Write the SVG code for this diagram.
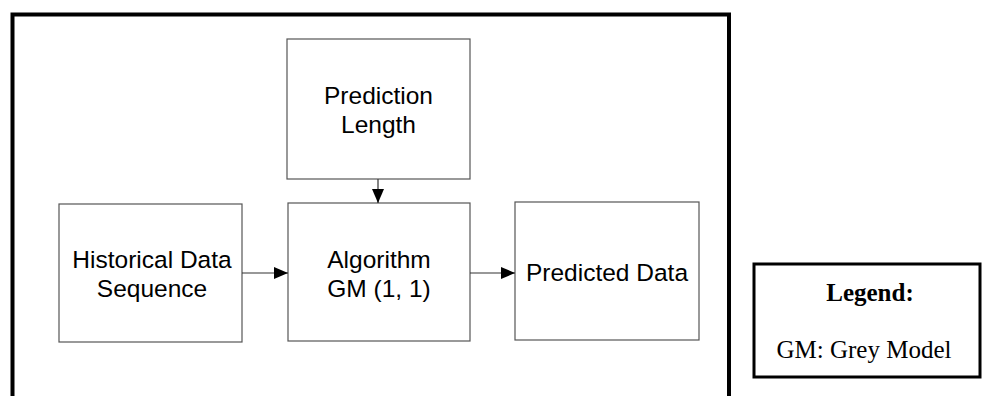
<svg xmlns="http://www.w3.org/2000/svg" width="984" height="396" viewBox="0 0 984 396">
  <style>
    .box { fill: #ffffff; stroke: #555555; stroke-width: 1.2; }
    .lbl { font-family: "Liberation Sans", Arial, sans-serif; font-size: 24.5px; fill: #000000; text-anchor: middle; }
    .leg { font-family: "Liberation Serif", "Times New Roman", serif; font-size: 25px; fill: #000000; text-anchor: middle; }
    .conn { stroke: #333333; stroke-width: 1.2; fill: none; }
  </style>
  <defs>
    <marker id="arrow" viewBox="0 0 14 12" refX="14" refY="6" markerWidth="14" markerHeight="12" markerUnits="userSpaceOnUse" orient="auto">
      <path d="M0,0 L14,6 L0,12 Z" fill="#000000"/>
    </marker>
  </defs>

  <rect width="984" height="396" fill="#ffffff"/>

  <!-- outer frame (bottom edge runs past the canvas) -->
  <path d="M12.5,400 V14.5 H729 V400" fill="none" stroke="#000000" stroke-width="4"/>

  <g id="prediction-length">
    <rect class="box" x="287" y="39" width="183" height="140"/>
    <text class="lbl" x="378.5" y="104">Prediction</text>
    <text class="lbl" x="378.5" y="133">Length</text>
  </g>

  <g id="historical-data">
    <rect class="box" x="59" y="204" width="183" height="138"/>
    <text class="lbl" x="152" y="268">Historical Data</text>
    <text class="lbl" x="152" y="297">Sequence</text>
  </g>

  <g id="algorithm">
    <rect class="box" x="288" y="203" width="182" height="138"/>
    <text class="lbl" x="379" y="268">Algorithm</text>
    <text class="lbl" x="379" y="297">GM (1, 1)</text>
  </g>

  <g id="predicted-data">
    <rect class="box" x="515" y="202" width="184" height="138"/>
    <text class="lbl" x="607" y="281">Predicted Data</text>
  </g>

  <g id="legend">
    <rect x="754" y="264" width="226" height="113" fill="#ffffff" stroke="#000000" stroke-width="3"/>
    <text class="leg" x="870" y="301" font-weight="bold">Legend:</text>
    <text class="leg" x="864" y="358">GM: Grey Model</text>
  </g>

  <g id="connectors">
    <line class="conn" x1="378" y1="179" x2="378" y2="203" marker-end="url(#arrow)"/>
    <line class="conn" x1="242" y1="273" x2="288" y2="273" marker-end="url(#arrow)"/>
    <line class="conn" x1="470" y1="273" x2="515" y2="273" marker-end="url(#arrow)"/>
  </g>
</svg>
